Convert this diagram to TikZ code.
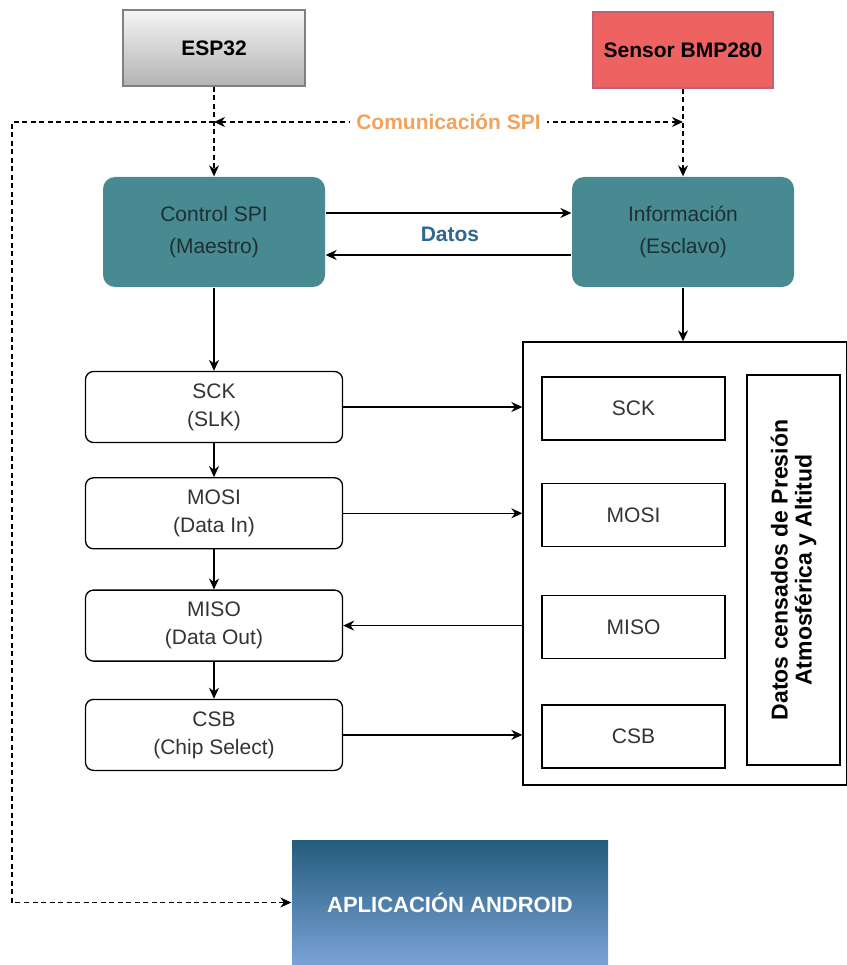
\documentclass[tikz,border=0pt]{standalone}
\usepackage{fontspec}
\setmainfont{Liberation Sans}
\usetikzlibrary{positioning,arrows.meta}
\definecolor{tealbox}{HTML}{478A92}
\definecolor{tealtext}{HTML}{1E2F33}
\definecolor{spiorange}{HTML}{F0A35C}
\definecolor{datosblue}{HTML}{2E6890}
\definecolor{sensorred}{HTML}{EE6262}
\definecolor{sensorline}{HTML}{C0607A}
\definecolor{apptop}{HTML}{245C7C}
\definecolor{appbot}{HTML}{7AA2D6}
\definecolor{pintext}{HTML}{333333}

\begin{document}
\begin{tikzpicture}[x=1pt, y=-1pt, line width=1.3pt, >={Stealth[length=11pt,width=10pt]},
	chip/.style={minimum width=182pt, minimum height=76pt, font=\fontsize{21}{24}\selectfont\bfseries},
	unit/.style={fill=tealbox, rounded corners=12pt, minimum width=222pt, minimum height=110pt, align=center, text=tealtext, font=\fontsize{21}{32}\selectfont},
	pin/.style={draw, rounded corners=8pt, minimum width=257pt, minimum height=71pt, align=center, text=pintext, font=\fontsize{21}{28}\selectfont},
	reg/.style={draw, minimum width=183pt, minimum height=63pt, text=pintext, font=\fontsize{21}{24}\selectfont},
	spiline/.style={dashed, dash pattern=on 5pt off 3.5pt, line width=1.1pt}]
	\useasboundingbox (0,0) rectangle (846,965);

	% fuentes
	\node [chip, draw=gray, line width=2pt, top color=white!96!black, bottom color=black!30] (esp) at (214,48) {ESP32};
	\node [chip, draw=sensorline, line width=2pt, fill=sensorred, minimum width=180pt] (bmp) at (683,50) {Sensor BMP280};

	% bloques SPI
	\node [unit] (ctrl) at (214,232) {Control SPI\\(Maestro)};
	\node [unit] (info) at (683,232) {Información\\(Esclavo)};

	% pines del maestro
	\node [pin] (sckM) at (214,407) {SCK\\(SLK)};
	\node [pin, below=34pt of sckM] (mosiM) {MOSI\\(Data In)};
	\node [pin, below=40pt of mosiM] (misoM) {MISO\\(Data Out)};
	\node [pin, below=37pt of misoM] (csbM) {CSB\\(Chip Select)};

	% esclavo
	\node [draw, minimum width=324pt, minimum height=443pt] (slave) at (685,563.5) {};
	\node [reg] (sckS) at (633.5,408.5) {SCK};
	\node [reg, below=42pt of sckS] (mosiS) {MOSI};
	\node [reg, below=48pt of mosiS] (misoS) {MISO};
	\node [reg, below=45pt of misoS] (csbS) {CSB};
	\node [draw, rotate=90, minimum width=390pt, minimum height=93pt, align=center, font=\fontsize{23}{24}\selectfont\bfseries] (note) at (793.5,570) {Datos censados de Presión\\Atmosférica y Altitud};

	% aplicacion
	\node [top color=apptop, bottom color=appbot, minimum width=316pt, minimum height=125pt, text=white, font=\fontsize{22}{24}\selectfont\bfseries] (app) at (450,902.5) {APLICACIÓN ANDROID};

	\coordinate (spiL) at (214,122);
	\coordinate (spiR) at (683,122);
	\coordinate (edgeL) at (12,122);

	\path[->, spiline] (esp) edge (ctrl);
	\path[->, spiline] (bmp) edge (info);
	\draw[<->, spiline] (spiL) -- node [fill=white, inner xsep=6pt, text=spiorange, font=\fontsize{21}{24}\selectfont\bfseries] {Comunicación SPI} (spiR);
	\draw[->, spiline] (spiL) -- (edgeL) |- (app.west);

	\path[->] ([yshift=19pt]ctrl.east) edge ([yshift=19pt]info.west);
	\path[->] ([yshift=-23pt]info.east -| info.west) edge ([yshift=-23pt]ctrl.east);
	\node [text=datosblue, font=\fontsize{21}{24}\selectfont\bfseries] (datos) at (450,234) {Datos};

	\path[->] (ctrl) edge (sckM);
	\path[->] (sckM) edge (mosiM);
	\path[->] (mosiM) edge (misoM);
	\path[->] (misoM) edge (csbM);
	\path[->] (info.south) edge (info.south |- slave.north);

	\path[->] (sckM.east) edge (sckM.east -| slave.west);
	\path[->] (mosiM.east) edge (mosiM.east -| slave.west);
	\path[->] (misoM.east -| slave.west) edge (misoM.east);
	\path[->] (csbM.east) edge (csbM.east -| slave.west);
\end{tikzpicture}
\end{document}
